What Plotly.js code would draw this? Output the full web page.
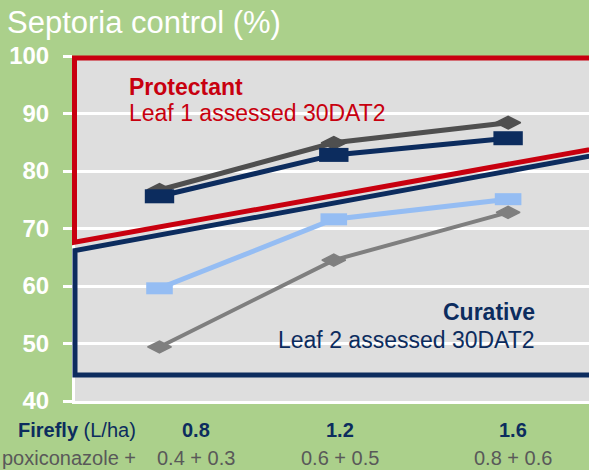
<!DOCTYPE html>
<html>
<head>
<meta charset="utf-8">
<script src="https://cdn.plot.ly/plotly-3.0.1.min.js"></script>
<style>html,body{margin:0;padding:0;background:#abd08b;}#chart{width:589px;height:470px;}</style>
</head>
<body>
<div id="chart"></div>
<script>
// ---- data ----
const fireflyRates = ['0.8', '1.2', '1.6'];            // Firefly (L/ha)
const mixRates = ['0.4 + 0.3', '0.6 + 0.5', '0.8 + 0.6']; // Epoxiconazole + ...
const leaf1Mix = [76.7, 84.9, 88.4];      // protectant, dark grey diamonds
const leaf1Firefly = [75.6, 82.8, 85.7];  // protectant, navy squares
const leaf2Firefly = [59.6, 71.6, 75.1];  // curative, light blue squares
const leaf2Mix = [49.4, 64.5, 72.8];      // curative, grey diamonds
const yTicks = [40, 50, 60, 70, 80, 90, 100];

// ---- layout constants ----
const W = 589, H = 470;
const L = 75, R = 589, T = 56, B = 401;
const px2x = px => (px - L) / (R - L);
const py2y = py => (B - py) / (B - T);
const FONT = 'Liberation Sans, Arial, sans-serif';
const RED = '#c8000f', NAVY = '#0c2c5e', GREEN = '#abd08b';
const labelX = [196, 340, 513];

const traces = [
  {x: fireflyRates, y: leaf1Mix, name: 'Epoxiconazole mix (leaf 1)', mode: 'lines+markers',
   line: {color: '#4f4f4f', width: 5},
   marker: {symbol: 'diamond-wide', size: 18, color: '#4f4f4f', line: {color: '#4f4f4f', width: 1.5}}},
  {x: fireflyRates, y: leaf1Firefly, name: 'Firefly (leaf 1)', mode: 'lines+markers',
   line: {color: NAVY, width: 5},
   marker: {symbol: 'line-ew', size: 21, color: NAVY, line: {color: NAVY, width: 14}}},
  {x: fireflyRates, y: leaf2Firefly, name: 'Firefly (leaf 2)', mode: 'lines+markers',
   line: {color: '#95bdf3', width: 5},
   marker: {symbol: 'line-ew', size: 19, color: '#95bdf3', line: {color: '#95bdf3', width: 12}}},
  {x: fireflyRates, y: leaf2Mix, name: 'Epoxiconazole mix (leaf 2)', mode: 'lines+markers',
   line: {color: '#7f7f7f', width: 4},
   marker: {symbol: 'diamond-wide', size: 17, color: '#7f7f7f', line: {color: '#7f7f7f', width: 1.5}}}
];

const redSlope = (149.7 - 242.2) / (589 - 75);
const navySlope = (156.3 - 250.5) / (589 - 75);
const shapes = [
  {type: 'path', xref: 'paper', yref: 'paper', layer: 'above',
   path: `M ${px2x(74.5)},${py2y(242.2)} L ${px2x(74.5)},${py2y(58)} L ${px2x(640)},${py2y(58)} L ${px2x(640)},${py2y(242.2 + redSlope * (640 - 75))} Z`,
   line: {color: RED, width: 5}, fillcolor: 'rgba(0,0,0,0)'},
  {type: 'path', xref: 'paper', yref: 'paper', layer: 'above',
   path: `M ${px2x(75)},${py2y(250.5)} L ${px2x(75)},${py2y(375)} L ${px2x(640)},${py2y(375)} L ${px2x(640)},${py2y(250.5 + navySlope * (640 - 75))} Z`,
   line: {color: NAVY, width: 5}, fillcolor: 'rgba(0,0,0,0)'}
];

const ann = (text, px, py, xanchor, color, size) => ({
  text: text, xref: 'paper', yref: 'paper', x: px2x(px), y: py2y(py),
  xanchor: xanchor, yanchor: 'middle', showarrow: false,
  font: {family: FONT, size: size, color: color}
});

const annotations = [
  ann('<b>Protectant</b>', 127, 87, 'left', RED, 23),
  ann('Leaf 1 assessed 30DAT2', 127, 113, 'left', RED, 23),
  ann('<b>Curative</b>', 537, 312, 'right', NAVY, 23),
  ann('Leaf 2 assessed 30DAT2', 537, 340, 'right', NAVY, 23),
  ann('<b>Firefly</b> (L/ha)', 138, 430, 'right', NAVY, 20),
  ann('poxiconazole +', 138, 458, 'right', '#595959', 20)
];
fireflyRates.forEach((t, i) => annotations.push(ann('<b>' + t + '</b>', labelX[i], 430, 'center', NAVY, 20)));
mixRates.forEach((t, i) => annotations.push(ann(t, labelX[i], 458, 'center', '#595959', 20)));

const layout = {
  width: W, height: H,
  margin: {l: L, r: W - R, t: T, b: H - B, pad: 0},
  paper_bgcolor: GREEN, plot_bgcolor: '#dedede',
  showlegend: false,
  title: {text: 'Septoria control (%)', x: 7 / W, xanchor: 'left', xref: 'container',
          y: 1 - 22 / H, yanchor: 'middle', yref: 'container',
          font: {family: FONT, size: 31, color: '#ffffff'}},
  xaxis: {type: 'category', range: [-(159.5 - L) / 174.3, (R - 159.5) / 174.3],
          showgrid: false, zeroline: false, showticklabels: false, ticks: '',
          showline: true, linecolor: '#ffffff', linewidth: 3, fixedrange: true},
  yaxis: {range: [40, 100], tickvals: yTicks, ticktext: yTicks.map(String),
          showgrid: true, gridcolor: '#ffffff', gridwidth: 3, zeroline: false,
          showline: true, linecolor: '#ffffff', linewidth: 3,
          ticks: 'outside', ticklen: 9, tickwidth: 3, tickcolor: '#ffffff',
          ticklabelstandoff: 9,
          tickfont: {family: FONT, size: 24, color: '#ffffff', weight: 'bold'},
          fixedrange: true},
  shapes: shapes,
  annotations: annotations
};

Plotly.newPlot('chart', traces, layout, {displayModeBar: false, staticPlot: true});
</script>
</body>
</html>
